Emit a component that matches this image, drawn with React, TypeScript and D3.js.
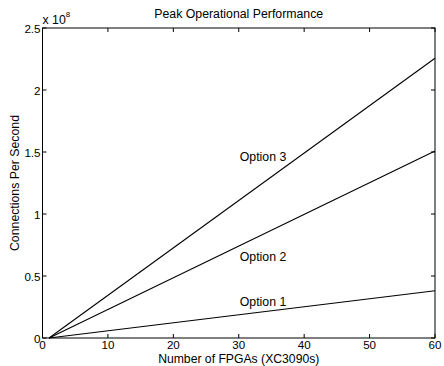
import React, { useRef, useEffect } from 'react';
import * as d3 from 'd3';

// number of FPGAs (XC3090s)
const fpgaCounts = [1, 60];
// connections per second, in units of 1e8
const option1 = [0, 0.381];
const option2 = [0, 1.508];
const option3 = [0, 2.256];

const seriesNames = ['Option 1', 'Option 2', 'Option 3'];
const seriesValues = [option1, option2, option3];
// label anchor positions (data units)
const labelX = [30, 30, 30];
const labelY = [0.29, 0.65, 1.46];

const xTicks = [0, 10, 20, 30, 40, 50, 60];
const yTicks = [0, 0.5, 1, 1.5, 2, 2.5];

const W = 444;
const H = 366;
const margin = { top: 28, right: 9, bottom: 28, left: 42.5 };

const App: React.FC = () => {
    const svgRef = useRef<SVGSVGElement | null>(null);

    useEffect(() => {
        if (!svgRef.current) return;
        const svg = d3.select(svgRef.current);
        svg.selectAll('*').remove();

        const x0 = margin.left;
        const x1 = W - margin.right;
        const y0 = H - margin.bottom;
        const y1 = margin.top;

        const x = d3.scaleLinear().domain([0, 60]).range([x0, x1]);
        const y = d3.scaleLinear().domain([0, 2.5]).range([y0, y1]);

        const font = 'Liberation Sans, Arial, sans-serif';
        const fs = 12.3;
        const tickFs = 11.6;
        const g = svg.append('g');

        // box
        g.append('rect')
            .attr('x', x0)
            .attr('y', y1)
            .attr('width', x1 - x0)
            .attr('height', y0 - y1)
            .attr('fill', 'none')
            .attr('stroke', '#000')
            .attr('stroke-width', 1);

        const tickLen = 4;
        // x ticks, bottom and top, pointing inwards
        xTicks.forEach((t) => {
            g.append('line')
                .attr('x1', x(t)).attr('x2', x(t))
                .attr('y1', y0).attr('y2', y0 - tickLen)
                .attr('stroke', '#000');
            g.append('line')
                .attr('x1', x(t)).attr('x2', x(t))
                .attr('y1', y1).attr('y2', y1 + tickLen)
                .attr('stroke', '#000');
            g.append('text')
                .attr('x', x(t))
                .attr('y', y0 + 10.5)
                .attr('text-anchor', 'middle')
                .attr('font-family', font)
                .attr('font-size', tickFs)
                .text(t);
        });

        yTicks.forEach((t) => {
            g.append('line')
                .attr('x1', x0).attr('x2', x0 + tickLen)
                .attr('y1', y(t)).attr('y2', y(t))
                .attr('stroke', '#000');
            g.append('line')
                .attr('x1', x1).attr('x2', x1 - tickLen)
                .attr('y1', y(t)).attr('y2', y(t))
                .attr('stroke', '#000');
            g.append('text')
                .attr('x', x0 - 2)
                .attr('y', y(t) + 4.5)
                .attr('text-anchor', 'end')
                .attr('font-family', font)
                .attr('font-size', tickFs)
                .text(t);
        });

        // exponent
        const exp = g.append('text')
            .attr('x', x0)
            .attr('y', y1 - 4)
            .attr('font-family', font)
            .attr('font-size', fs);
        exp.append('tspan').text('x 10');
        exp.append('tspan')
            .attr('dy', -7)
            .attr('font-size', 8)
            .text('8');

        // lines
        const line = d3
            .line<number>()
            .x((_, i) => x(fpgaCounts[i]))
            .y((d) => y(d));

        seriesValues.forEach((vals, i) => {
            g.append('path')
                .datum(vals)
                .attr('d', line)
                .attr('fill', 'none')
                .attr('stroke', '#000')
                .attr('stroke-width', 1.1);
            g.append('text')
                .attr('x', x(labelX[i]) + 1)
                .attr('y', y(labelY[i]) + 4)
                .attr('font-family', font)
                .attr('font-size', fs)
                .text(seriesNames[i]);
        });

        // title & axis labels
        g.append('text')
            .attr('x', (x0 + x1) / 2)
            .attr('y', 18)
            .attr('text-anchor', 'middle')
            .attr('font-family', font)
            .attr('font-size', fs)
            .text('Peak Operational Performance');

        g.append('text')
            .attr('x', (x0 + x1) / 2)
            .attr('y', H - 3)
            .attr('text-anchor', 'middle')
            .attr('font-family', font)
            .attr('font-size', 12.2)
            .text('Number of FPGAs (XC3090s)');

        g.append('text')
            .attr('transform', `translate(19, ${(y0 + y1) / 2}) rotate(-90)`)
            .attr('text-anchor', 'middle')
            .attr('font-family', font)
            .attr('font-size', fs)
            .text('Connections Per Second');
    }, []);

    return (
        <svg
            ref={svgRef}
            width={W}
            height={H}
            style={{
                position: 'absolute',
                left: 0,
                top: 0,
                background: '#fff',
            }}
        ></svg>
    );
};

export default App;
